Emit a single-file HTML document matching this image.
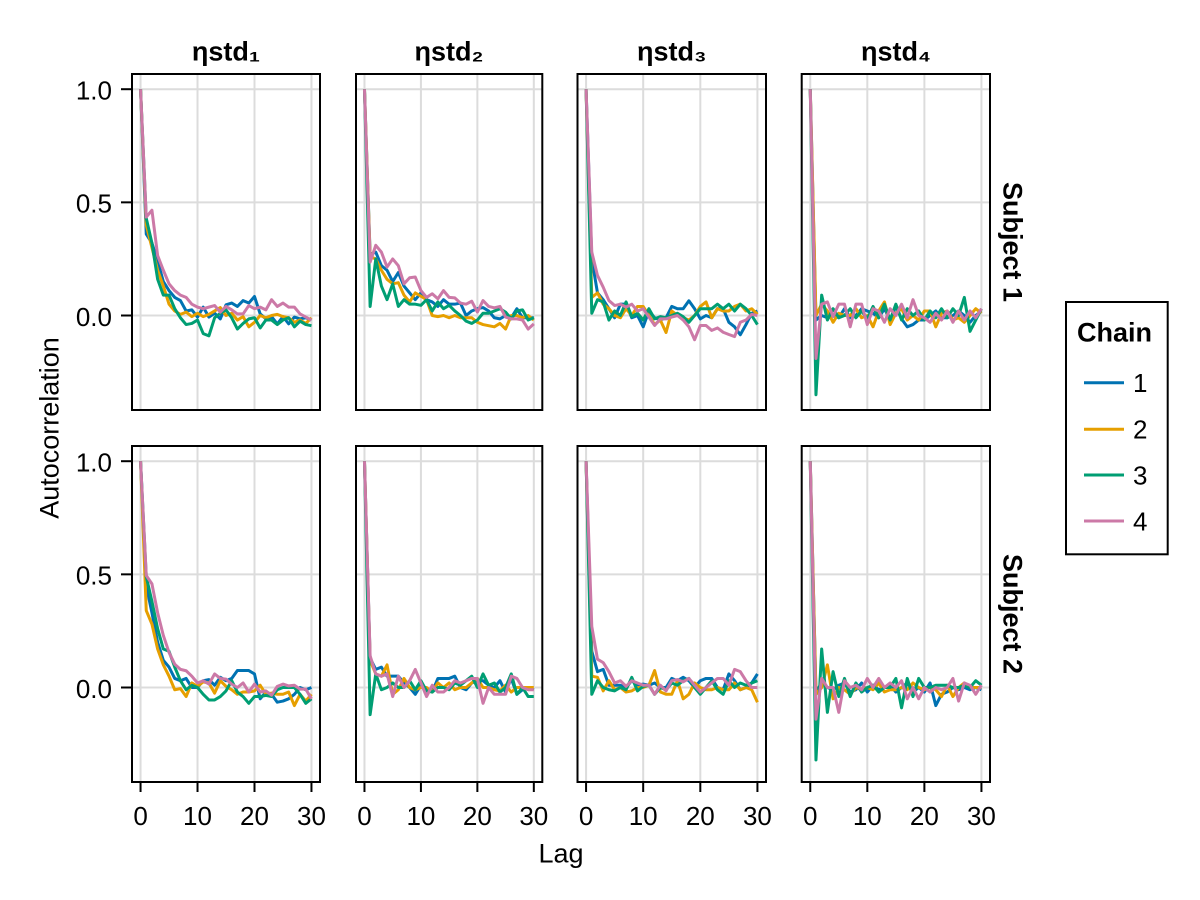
<!DOCTYPE html>
<html><head><meta charset="utf-8"><style>
html,body{margin:0;padding:0;background:#fff;}
svg{display:block;}
text{font-family:"Liberation Sans","DejaVu Sans",sans-serif;fill:#000;}
.pl{fill:none;stroke-width:3;vector-effect:non-scaling-stroke;stroke-linejoin:round;}
.c1{stroke:#0072B2}.c2{stroke:#E69F00}.c3{stroke:#009E73}.c4{stroke:#CC79A7}
.grid{stroke:#dcdcdc;stroke-width:2;}
.fr{fill:none;stroke:#000;stroke-width:2;}
.tk{stroke:#000;stroke-width:2;}
.tl{font-size:26px;}
.ttl{font-size:27px;font-weight:bold;}
</style></head><body>
<svg width="1200" height="900" viewBox="0 0 1200 900" xmlns="http://www.w3.org/2000/svg">
<rect width="1200" height="900" fill="#fff"/>

<g class="grid">
<line x1="132" x2="320" y1="315.5" y2="315.5"/><line x1="132" x2="320" y1="202.35" y2="202.35"/><line x1="132" x2="320" y1="89.2" y2="89.2"/>
<line x1="140.55" x2="140.55" y1="74" y2="410"/><line x1="197.52" x2="197.52" y1="74" y2="410"/><line x1="254.49" x2="254.49" y1="74" y2="410"/><line x1="311.46" x2="311.46" y1="74" y2="410"/>
<line x1="356" x2="542.3" y1="315.5" y2="315.5"/><line x1="356" x2="542.3" y1="202.35" y2="202.35"/><line x1="356" x2="542.3" y1="89.2" y2="89.2"/>
<line x1="364.47" x2="364.47" y1="74" y2="410"/><line x1="420.92" x2="420.92" y1="74" y2="410"/><line x1="477.37" x2="477.37" y1="74" y2="410"/><line x1="533.82" x2="533.82" y1="74" y2="410"/>
<line x1="577.5" x2="766" y1="315.5" y2="315.5"/><line x1="577.5" x2="766" y1="202.35" y2="202.35"/><line x1="577.5" x2="766" y1="89.2" y2="89.2"/>
<line x1="586.07" x2="586.07" y1="74" y2="410"/><line x1="643.19" x2="643.19" y1="74" y2="410"/><line x1="700.31" x2="700.31" y1="74" y2="410"/><line x1="757.43" x2="757.43" y1="74" y2="410"/>
<line x1="801.7" x2="990" y1="315.5" y2="315.5"/><line x1="801.7" x2="990" y1="202.35" y2="202.35"/><line x1="801.7" x2="990" y1="89.2" y2="89.2"/>
<line x1="810.26" x2="810.26" y1="74" y2="410"/><line x1="867.32" x2="867.32" y1="74" y2="410"/><line x1="924.38" x2="924.38" y1="74" y2="410"/><line x1="981.44" x2="981.44" y1="74" y2="410"/>
<line x1="132" x2="320" y1="687.5" y2="687.5"/><line x1="132" x2="320" y1="574.35" y2="574.35"/><line x1="132" x2="320" y1="461.2" y2="461.2"/>
<line x1="140.55" x2="140.55" y1="446" y2="782"/><line x1="197.52" x2="197.52" y1="446" y2="782"/><line x1="254.49" x2="254.49" y1="446" y2="782"/><line x1="311.46" x2="311.46" y1="446" y2="782"/>
<line x1="356" x2="542.3" y1="687.5" y2="687.5"/><line x1="356" x2="542.3" y1="574.35" y2="574.35"/><line x1="356" x2="542.3" y1="461.2" y2="461.2"/>
<line x1="364.47" x2="364.47" y1="446" y2="782"/><line x1="420.92" x2="420.92" y1="446" y2="782"/><line x1="477.37" x2="477.37" y1="446" y2="782"/><line x1="533.82" x2="533.82" y1="446" y2="782"/>
<line x1="577.5" x2="766" y1="687.5" y2="687.5"/><line x1="577.5" x2="766" y1="574.35" y2="574.35"/><line x1="577.5" x2="766" y1="461.2" y2="461.2"/>
<line x1="586.07" x2="586.07" y1="446" y2="782"/><line x1="643.19" x2="643.19" y1="446" y2="782"/><line x1="700.31" x2="700.31" y1="446" y2="782"/><line x1="757.43" x2="757.43" y1="446" y2="782"/>
<line x1="801.7" x2="990" y1="687.5" y2="687.5"/><line x1="801.7" x2="990" y1="574.35" y2="574.35"/><line x1="801.7" x2="990" y1="461.2" y2="461.2"/>
<line x1="810.26" x2="810.26" y1="446" y2="782"/><line x1="867.32" x2="867.32" y1="446" y2="782"/><line x1="924.38" x2="924.38" y1="446" y2="782"/><line x1="981.44" x2="981.44" y1="446" y2="782"/>
</g>

<g transform="translate(140.55,315.5) scale(5.697,-226.3)">
<polyline class="pl c1" points="0,1 1,.36 2,.32 3,.24 4,.15 5,.11 6,.08 7,.066 8,.02 9,.025 10,-.007 11,.037 12,-.007 13,.01 14,-.015 15,.047 16,.055 17,.04 18,.066 19,.055 20,.084 21,.007 22,-.015 23,-.005 24,-.037 25,-.005 26,-.037 27,-.007 28,-.015 29,-.01 30,-.02"/>
<polyline class="pl c2" points="0,1 1,.4 2,.3 3,.2 4,.13 5,.05 6,.02 7,.005 8,.015 9,-.005 10,.01 11,-.005 12,.005 13,.02 14,.035 15,0 16,.01 17,-.02 18,-.005 19,-.05 20,-.03 21,0 22,-.01 23,0 24,.005 25,-.005 26,-.01 27,-.03 28,-.02 29,-.035 30,-.01"/>
<polyline class="pl c3" points="0,1 1,.43 2,.32 3,.16 4,.09 5,.09 6,.03 7,-.01 8,-.04 9,-.035 10,-.02 11,-.08 12,-.09 13,-.01 14,.01 15,.025 16,-.01 17,-.06 18,-.035 19,-.015 20,-.01 21,-.055 22,-.02 23,-.02 24,-.04 25,-.02 26,-.01 27,-.05 28,-.025 29,-.04 30,-.045"/>
<polyline class="pl c4" points="0,1 1,.435 2,.465 3,.265 4,.2 5,.14 6,.11 7,.09 8,.08 9,.05 10,.037 11,.03 12,.037 13,.044 14,.015 15,.04 16,.025 17,.007 18,.007 19,.044 20,.03 21,.037 22,.025 23,.07 24,.04 25,.055 26,.037 27,.037 28,.007 29,-.007 30,-.02"/>
</g>
<g transform="translate(364.47,315.5) scale(5.645,-226.3)">
<polyline class="pl c1" points="0,1 1,.27 2,.28 3,.22 4,.2 5,.15 6,.19 7,.13 8,.1 9,.07 10,.1 11,.07 12,.06 13,.04 14,.07 15,.05 16,.05 17,.055 18,0 19,.02 20,.03 21,.035 22,.02 23,-.01 24,-.015 25,0 26,-.01 27,.03 28,-.01 29,-.01 30,-.01"/>
<polyline class="pl c2" points="0,1 1,.26 2,.25 3,.2 4,.16 5,.14 6,.145 7,.09 8,.06 9,.1 10,.085 11,.07 12,0 13,-.005 14,0 15,-.01 16,0 17,-.01 18,-.01 19,-.01 20,-.03 21,-.04 22,-.045 23,-.05 24,-.035 25,-.06 26,0 27,0 28,-.01 29,0 30,-.02"/>
<polyline class="pl c3" points="0,1 1,.04 2,.25 3,.13 4,.07 5,.14 6,.04 7,.07 8,.05 9,.05 10,.045 11,.07 12,.02 13,.06 14,.03 15,.045 16,.02 17,0 18,-.025 19,-.035 20,-.02 21,.01 22,.01 23,.02 24,.03 25,.015 26,-.015 27,.02 28,.025 29,-.02 30,-.01"/>
<polyline class="pl c4" points="0,1 1,.236 2,.31 3,.28 4,.214 5,.25 6,.22 7,.14 8,.167 9,.17 10,.11 11,.08 12,.096 13,.074 14,.11 15,.08 16,.078 17,.055 18,.05 19,.063 20,.015 21,.066 22,.04 23,.034 24,.04 25,-.007 26,-.015 27,-.015 28,-.02 29,-.06 30,-.037"/>
</g>
<g transform="translate(586.07,315.5) scale(5.712,-226.3)">
<polyline class="pl c1" points="0,1 1,.25 2,.1 3,.07 4,.03 5,-.01 6,.05 7,.05 8,-.01 9,0 10,-.05 11,.02 12,-.01 13,-.02 14,-.01 15,.04 16,.03 17,.03 18,.065 19,.03 20,-.015 21,0 22,-.01 23,.03 24,.03 25,-.03 26,-.05 27,-.085 28,-.04 29,.01 30,.02"/>
<polyline class="pl c2" points="0,1 1,.08 2,.1 3,.05 4,.03 5,0 6,-.01 7,.03 8,0 9,.04 10,.04 11,0 12,-.04 13,-.02 14,-.075 15,.02 16,0 17,-.01 18,-.02 19,0 20,.04 21,.06 22,-.01 23,.03 24,.02 25,.02 26,.04 27,.05 28,.02 29,.03 30,.005"/>
<polyline class="pl c3" points="0,1 1,.01 2,.07 3,.06 4,-.02 5,.02 6,0 7,.06 8,-.005 9,.01 10,-.02 11,.03 12,-.015 13,-.005 14,-.01 15,0 16,.01 17,-.005 18,-.03 19,0 20,.03 21,.03 22,.03 23,.05 24,.03 25,.05 26,.02 27,.05 28,.03 29,0 30,-.04"/>
<polyline class="pl c4" points="0,1 1,.28 2,.177 3,.125 4,.066 5,.044 6,.05 7,.037 8,.05 9,.02 10,.03 11,-.007 12,-.044 13,-.015 14,-.015 15,-.007 16,0 17,-.02 18,-.05 19,-.107 20,-.044 21,-.044 22,-.066 23,-.055 24,-.074 25,-.084 26,-.093 27,-.03 28,-.02 29,.005 30,0"/>
</g>
<g transform="translate(810.26,315.5) scale(5.706,-226.3)">
<polyline class="pl c1" points="0,1 1,-.02 2,0 3,-.01 4,0 5,-.01 6,.03 7,-.01 8,0 9,.03 10,.02 11,.01 12,-.01 13,.03 14,-.02 15,.04 16,-.015 17,-.05 18,-.04 19,-.02 20,-.02 21,0 22,.02 23,-.01 24,-.01 25,0 26,.02 27,0 28,-.03 29,0 30,.02"/>
<polyline class="pl c2" points="0,1 1,0 2,.05 3,.02 4,-.03 5,.01 6,0 7,0 8,.03 9,-.01 10,0 11,-.05 12,.02 13,.06 14,-.04 15,.01 16,.03 17,-.02 18,0 19,-.02 20,.02 21,.02 22,-.05 23,.01 24,.02 25,-.02 26,-.01 27,-.03 28,0 29,.03 30,.01"/>
<polyline class="pl c3" points="0,1 1,-.35 2,.09 3,-.02 4,.03 5,-.01 6,0 7,.03 8,-.01 9,.02 10,-.015 11,.04 12,-.01 13,.05 14,-.02 15,.05 16,-.02 17,.03 18,0 19,.02 20,-.02 21,.02 22,-.01 23,.03 24,-.01 25,.03 26,0 27,.08 28,-.07 29,-.02 30,.03"/>
<polyline class="pl c4" points="0,1 1,-.19 2,.05 3,.06 4,-.005 5,.05 6,.05 7,-.05 8,.05 9,.05 10,-.04 11,.03 12,.02 13,-.03 14,.03 15,0 16,.05 17,-.01 18,.07 19,0 20,-.01 21,-.03 22,.01 23,-.02 24,.02 25,-.03 26,.02 27,-.02 28,.02 29,-.01 30,.03"/>
</g>

<g transform="translate(140.55,687.5) scale(5.697,-226.3)">
<polyline class="pl c1" points="0,1 1,.45 2,.33 3,.2 4,.12 5,.09 6,.04 7,.03 8,.04 9,0 10,0 11,.03 12,.035 13,.01 14,.045 15,.03 16,.04 17,.075 18,.075 19,.075 20,.06 21,-.05 22,-.02 23,-.03 24,-.065 25,-.06 26,-.05 27,-.03 28,0 29,-.01 30,0"/>
<polyline class="pl c2" points="0,1 1,.34 2,.28 3,.17 4,.1 5,.05 6,-.01 7,-.005 8,-.04 9,.02 10,.005 11,.025 12,.02 13,-.025 14,.03 15,.005 16,-.01 17,-.03 18,-.02 19,-.02 20,-.015 21,.01 22,-.03 23,-.025 24,-.03 25,-.03 26,-.02 27,-.08 28,-.03 29,-.06 30,-.03"/>
<polyline class="pl c3" points="0,1 1,.49 2,.38 3,.26 4,.17 5,.16 6,.09 7,.03 8,-.01 9,.01 10,0 11,-.03 12,-.055 13,-.055 14,-.04 15,-.015 16,.03 17,-.02 18,-.04 19,-.07 20,-.04 21,-.04 22,-.035 23,-.04 24,-.01 25,0 26,0 27,0 28,-.03 29,-.07 30,-.05"/>
<polyline class="pl c4" points="0,1 1,.495 2,.458 3,.33 4,.23 5,.155 6,.103 7,.08 8,.074 9,.05 10,.02 11,.03 12,.015 13,.06 14,.04 15,.037 16,.015 17,0 18,.02 19,-.02 20,.015 21,-.02 22,-.015 23,-.034 24,.005 25,.015 26,.007 27,.01 28,-.007 29,-.007 30,-.05"/>
</g>
<g transform="translate(364.47,687.5) scale(5.645,-226.3)">
<polyline class="pl c1" points="0,1 1,.13 2,.08 3,.09 4,.05 5,.05 6,.05 7,.02 8,0 9,-.03 10,.01 11,-.01 12,-.02 13,.04 14,.04 15,.04 16,.05 17,0 18,-.01 19,.02 20,.03 21,.03 22,.01 23,0 24,.03 25,-.02 26,.04 27,-.03 28,-.01 29,0 30,-.01"/>
<polyline class="pl c2" points="0,1 1,.12 2,.06 3,.05 4,.1 5,-.03 6,-.01 7,.04 8,0 9,-.01 10,0 11,0 12,-.02 13,.02 14,0 15,.02 16,-.01 17,0 18,0 19,.02 20,.04 21,0 22,0 23,-.01 24,-.015 25,.01 26,-.02 27,0 28,0 29,0 30,0"/>
<polyline class="pl c3" points="0,1 1,-.12 2,.06 3,-.01 4,0 5,.02 6,0 7,0 8,.03 9,-.01 10,.03 11,-.015 12,-.02 13,0 14,0 15,-.01 16,.02 17,.01 18,.03 19,.05 20,0 21,.06 22,.01 23,.02 24,-.02 25,0 26,.06 27,-.03 28,0 29,-.04 30,-.04"/>
<polyline class="pl c4" points="0,1 1,.14 2,.06 3,.05 4,.06 5,-.04 6,.05 7,0 8,.03 9,.08 10,.02 11,-.04 12,.01 13,-.02 14,-.02 15,0 16,.03 17,.02 18,.03 19,.04 20,.04 21,-.07 22,0 23,-.03 24,-.03 25,-.03 26,.05 27,.04 28,0 29,-.01 30,-.01"/>
</g>
<g transform="translate(586.07,687.5) scale(5.712,-226.3)">
<polyline class="pl c1" points="0,1 1,.16 2,.07 3,.08 4,.01 5,.01 6,.01 7,0 8,.03 9,.01 10,.015 11,.01 12,.02 13,0 14,0 15,.04 16,.03 17,.045 18,.03 19,0 20,.03 21,.04 22,.04 23,0 24,-.01 25,.06 26,.03 27,-.01 28,0 29,.02 30,.06"/>
<polyline class="pl c2" points="0,1 1,.05 2,.045 3,-.015 4,.03 5,-.01 6,0 7,-.02 8,-.015 9,0 10,0 11,.01 12,.075 13,-.02 14,-.03 15,-.03 16,.03 17,-.05 18,-.03 19,.02 20,0 21,-.01 22,-.01 23,0 24,-.01 25,-.01 26,.02 27,-.01 28,0 29,-.01 30,-.065"/>
<polyline class="pl c3" points="0,1 1,-.03 2,.03 3,0 4,-.01 5,-.015 6,0 7,-.01 8,.045 9,-.015 10,.005 11,.01 12,-.03 13,0 14,-.01 15,.02 16,.01 17,.03 18,.04 19,0 20,-.03 21,0 22,.03 23,-.01 24,-.03 25,.03 26,0 27,.02 28,.01 29,.02 30,.03"/>
<polyline class="pl c4" points="0,1 1,.27 2,.125 3,.11 4,.07 5,.02 6,.03 7,.005 8,.03 9,.02 10,.01 11,.01 12,-.03 13,.01 14,-.015 15,.03 16,.035 17,.025 18,.04 19,.01 20,-.02 21,0 22,.02 23,.04 24,.04 25,.01 26,.08 27,.07 28,.03 29,0 30,0"/>
</g>
<g transform="translate(810.26,687.5) scale(5.706,-226.3)">
<polyline class="pl c1" points="0,1 1,-.02 2,.02 3,0 4,-.01 5,.01 6,.02 7,-.02 8,-.01 9,.02 10,-.02 11,.01 12,-.01 13,0 14,.01 15,-.02 16,0 17,.02 18,-.02 19,0 20,-.02 21,.02 22,-.08 23,-.03 24,-.02 25,0 26,-.01 27,0 28,-.01 29,0 30,-.01"/>
<polyline class="pl c2" points="0,1 1,-.03 2,0 3,.1 4,-.05 5,0 6,-.01 7,-.03 8,0 9,-.01 10,0 11,-.01 12,.02 13,-.02 14,-.01 15,-.01 16,0 17,-.01 18,.02 19,0 20,-.01 21,0 22,-.01 23,-.04 24,.01 25,-.04 26,0 27,.02 28,0 29,0 30,0"/>
<polyline class="pl c3" points="0,1 1,-.32 2,.17 3,-.11 4,.07 5,-.04 6,.04 7,-.04 8,.02 9,-.02 10,0 11,.01 12,-.02 13,0 14,0 15,.04 16,-.09 17,.04 18,-.04 19,.04 20,0 21,0 22,.01 23,.01 24,.01 25,0 26,0 27,.01 28,0 29,.03 30,.01"/>
<polyline class="pl c4" points="0,1 1,-.14 2,.04 3,0 4,0 5,-.11 6,.03 7,0 8,.01 9,-.01 10,.04 11,0 12,.04 13,0 14,.02 15,0 16,.03 17,-.05 18,0 19,-.05 20,0 21,-.02 22,0 23,-.01 24,0 25,.04 26,-.06 27,.02 28,.01 29,-.03 30,.01"/>
</g>

<rect class="fr" x="132" y="74" width="188" height="336"/>
<rect class="fr" x="356" y="74" width="186.3" height="336"/>
<rect class="fr" x="577.5" y="74" width="188.5" height="336"/>
<rect class="fr" x="801.7" y="74" width="188.3" height="336"/>
<rect class="fr" x="132" y="446" width="188" height="336"/>
<rect class="fr" x="356" y="446" width="186.3" height="336"/>
<rect class="fr" x="577.5" y="446" width="188.5" height="336"/>
<rect class="fr" x="801.7" y="446" width="188.3" height="336"/>

<g class="tk">
<line x1="121" x2="132" y1="89.2" y2="89.2"/><line x1="121" x2="132" y1="202.35" y2="202.35"/><line x1="121" x2="132" y1="315.5" y2="315.5"/>
<line x1="121" x2="132" y1="461.2" y2="461.2"/><line x1="121" x2="132" y1="574.35" y2="574.35"/><line x1="121" x2="132" y1="687.5" y2="687.5"/>
</g>
<g class="tl" text-anchor="end">
<text x="112" y="99.5">1.0</text><text x="112" y="212.6">0.5</text><text x="112" y="325.8">0.0</text>
<text x="112" y="471.4">1.0</text><text x="112" y="584.6">0.5</text><text x="112" y="697.8">0.0</text>
</g>

<g class="tk">
<line x1="140.55" x2="140.55" y1="782" y2="792"/><line x1="197.52" x2="197.52" y1="782" y2="792"/><line x1="254.49" x2="254.49" y1="782" y2="792"/><line x1="311.46" x2="311.46" y1="782" y2="792"/>
<line x1="364.47" x2="364.47" y1="782" y2="792"/><line x1="420.92" x2="420.92" y1="782" y2="792"/><line x1="477.37" x2="477.37" y1="782" y2="792"/><line x1="533.82" x2="533.82" y1="782" y2="792"/>
<line x1="586.07" x2="586.07" y1="782" y2="792"/><line x1="643.19" x2="643.19" y1="782" y2="792"/><line x1="700.31" x2="700.31" y1="782" y2="792"/><line x1="757.43" x2="757.43" y1="782" y2="792"/>
<line x1="810.26" x2="810.26" y1="782" y2="792"/><line x1="867.32" x2="867.32" y1="782" y2="792"/><line x1="924.38" x2="924.38" y1="782" y2="792"/><line x1="981.44" x2="981.44" y1="782" y2="792"/>
</g>
<g class="tl" text-anchor="middle">
<text x="140.55" y="825">0</text><text x="197.52" y="825">10</text><text x="254.49" y="825">20</text><text x="311.46" y="825">30</text>
<text x="364.47" y="825">0</text><text x="420.92" y="825">10</text><text x="477.37" y="825">20</text><text x="533.82" y="825">30</text>
<text x="586.07" y="825">0</text><text x="643.19" y="825">10</text><text x="700.31" y="825">20</text><text x="757.43" y="825">30</text>
<text x="810.26" y="825">0</text><text x="867.32" y="825">10</text><text x="924.38" y="825">20</text><text x="981.44" y="825">30</text>
</g>

<g class="ttl" text-anchor="middle">
<text x="226" y="60.5">ηstd₁</text>
<text x="449" y="60.5">ηstd₂</text>
<text x="671.8" y="60.5">ηstd₃</text>
<text x="895.9" y="60.5">ηstd₄</text>
</g>

<text x="561" y="862.5" text-anchor="middle" style="font-size:27px">Lag</text>
<text transform="translate(58.5,428) rotate(-90)" text-anchor="middle" style="font-size:27px">Autocorrelation</text>

<text class="ttl" transform="translate(1003.5,242) rotate(90)" text-anchor="middle">Subject 1</text>
<text class="ttl" transform="translate(1003.5,614) rotate(90)" text-anchor="middle">Subject 2</text>

<rect class="fr" x="1066" y="302" width="101.7" height="252.3"/>
<text x="1077" y="341.5" class="ttl">Chain</text>
<line x1="1084" x2="1124" y1="382.7" y2="382.7" stroke="#0072B2" stroke-width="3"/>
<line x1="1084" x2="1124" y1="429.3" y2="429.3" stroke="#E69F00" stroke-width="3"/>
<line x1="1084" x2="1124" y1="475" y2="475" stroke="#009E73" stroke-width="3"/>
<line x1="1084" x2="1124" y1="521" y2="521" stroke="#CC79A7" stroke-width="3"/>
<g class="tl">
<text x="1133" y="392">1</text>
<text x="1133" y="438.6">2</text>
<text x="1133" y="484.3">3</text>
<text x="1133" y="530.3">4</text>
</g>
</svg>
</body></html>
